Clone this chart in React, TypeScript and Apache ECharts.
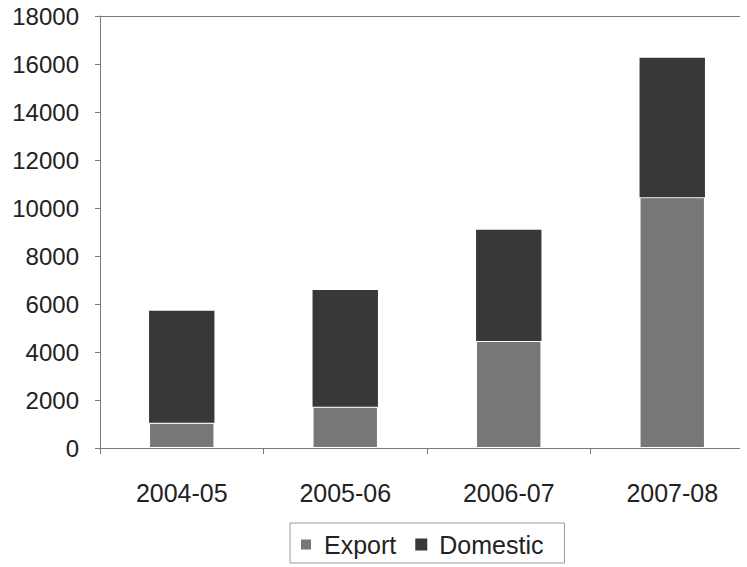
import React, { useEffect, useRef } from "react";
import * as echarts from "echarts";

const categories = ["2004-05", "2005-06", "2006-07", "2007-08"];
const exportValues = [1050, 1720, 4460, 10450];
const domesticValues = [4670, 4860, 4630, 5810];
const yTicks = { min: 0, max: 18000, interval: 2000 };

export default function App() {
  const ref = useRef<HTMLDivElement>(null);
  useEffect(() => {
    if (!ref.current) return;
    const chart = echarts.init(ref.current, undefined, { renderer: "svg" });
    const font = "Liberation Sans, Arial, sans-serif";
    chart.setOption({
      animation: false,
      backgroundColor: "#ffffff",
      textStyle: { fontFamily: font },
      grid: {
        left: 100,
        top: 16,
        right: 6,
        bottom: 119,
        show: false,
      },
      legend: {
        left: 290,
        top: 523,
        data: ["Export", "Domestic"],
        icon: "rect",
        itemWidth: 12,
        itemHeight: 12,
        itemGap: 19,
        borderColor: "#9a9a9a",
        borderWidth: 1,
        padding: [9, 21, 6, 9],
        textStyle: {
          fontSize: 25,
          color: "#222",
          fontFamily: font,
          padding: [0, 0, 0, 7],
        },
      },
      xAxis: [
        {
          type: "category",
          data: categories,
          axisLine: { lineStyle: { color: "#7a7a7a" } },
          axisTick: { show: true, length: 6, lineStyle: { color: "#7a7a7a" } },
          axisLabel: { fontSize: 25, color: "#222", margin: 32, fontFamily: font },
        },
        {
          type: "category",
          data: categories,
          position: "top",
          axisLine: { show: true, lineStyle: { color: "#7a7a7a" } },
          axisTick: { show: false },
          axisLabel: { show: false },
        },
      ],
      yAxis: {
        type: "value",
        min: yTicks.min,
        max: yTicks.max,
        interval: yTicks.interval,
        splitLine: { show: false },
        axisLine: { show: true, lineStyle: { color: "#7a7a7a" } },
        axisTick: { show: true, length: 5, lineStyle: { color: "#7a7a7a" } },
        axisLabel: {
          fontSize: 24,
          color: "#222",
          margin: 21,
          fontFamily: font,
          formatter: (v: number) => String(v),
        },
      },
      series: [
        {
          name: "Export",
          type: "bar",
          stack: "total",
          data: exportValues,
          barWidth: "40%",
          itemStyle: { color: "#777777", borderColor: "#ffffff", borderWidth: 1 },
        },
        {
          name: "Domestic",
          type: "bar",
          stack: "total",
          data: domesticValues,
          barWidth: "40%",
          itemStyle: { color: "#383838" },
        },
      ],
    });
    return () => chart.dispose();
  }, []);
  return (
    <div
      style={{
        position: "fixed",
        left: 0,
        top: 0,
        width: 747,
        height: 567,
        overflow: "hidden",
        background: "#fff",
      }}
    >
      <div ref={ref} style={{ width: 760, height: 567 }} />
      <div
        style={{
          position: "absolute",
          left: 740,
          top: 0,
          width: 7,
          height: 567,
          background: "#fff",
        }}
      />
    </div>
  );
}
